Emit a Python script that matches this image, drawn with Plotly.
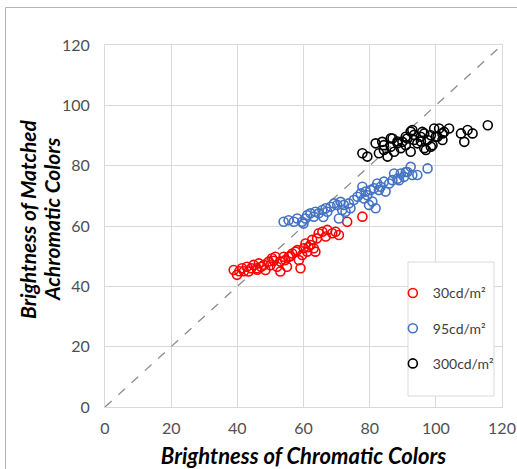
import plotly.graph_objects as go

# ---------------- data ----------------
SERIES_NAMES = ["30cd/m²", "95cd/m²", "300cd/m²"]
SERIES_COLORS = ["#FF0000", "#4472C4", "#000000"]

red_x = [38.9, 39.9, 40.6, 41.4, 42.9, 43.4, 44.2, 44.9, 45.9, 46.5, 47.2, 48.0, 48.5, 49.5,
         50.0, 50.5, 51.5, 52.0, 53.0, 53.0, 54.0, 54.5, 55.0, 55.5, 56.6, 57.6, 58.1, 58.6,
         59.1, 59.6, 60.1, 60.6, 61.1, 62.1, 62.6, 63.1, 63.6, 64.1, 64.6, 65.7, 66.7, 67.2,
         68.7, 69.7, 70.7, 73.2, 77.8, 42.0, 46.0, 51.0, 56.0, 61.5]
red_y = [45.4, 43.8, 45.0, 46.0, 46.5, 44.9, 46.0, 47.1, 46.0, 47.6, 46.5, 47.1, 45.4, 48.2,
         47.0, 49.3, 49.8, 46.5, 44.9, 48.2, 49.8, 48.7, 46.5, 49.8, 50.9, 51.5, 52.0, 48.7,
         46.0, 50.4, 52.6, 54.2, 51.5, 53.7, 55.4, 52.6, 51.5, 55.9, 57.6, 58.1, 56.5, 58.7,
         57.6, 58.1, 57.0, 61.4, 63.1, 45.0, 45.5, 48.5, 50.0, 53.0]

blue_x = [54.0, 55.5, 57.1, 58.1, 59.6, 60.6, 61.1, 62.1, 63.1, 63.6, 64.6, 65.7, 66.7, 67.2,
          68.2, 69.2, 70.2, 70.7, 71.2, 71.7, 72.2, 72.7, 73.7, 74.2, 75.2, 76.3, 77.3, 77.8,
          78.3, 78.8, 79.3, 79.8, 80.3, 80.8, 81.3, 81.8, 82.3, 82.8, 83.3, 84.3, 84.8, 85.9,
          86.9, 87.4, 88.4, 88.9, 89.4, 90.4, 90.9, 91.4, 92.4, 92.9, 94.4, 97.5, 60.0, 66.0]
blue_y = [61.4, 61.9, 61.4, 62.5, 61.4, 62.5, 63.6, 64.2, 63.1, 64.7, 64.2, 65.3, 65.9, 64.7,
          66.4, 67.5, 67.0, 62.5, 68.0, 65.3, 67.0, 64.7, 67.5, 65.9, 68.6, 69.7, 70.8, 73.0,
          69.1, 71.4, 70.2, 67.0, 71.9, 68.1, 72.5, 65.9, 74.1, 71.9, 73.0, 74.7, 71.4, 74.1,
          75.2, 77.4, 75.7, 75.2, 77.4, 76.3, 77.9, 77.9, 79.6, 76.9, 76.9, 79.1, 60.8, 63.0]

black_x = [77.8, 79.3, 81.8, 82.8, 83.8, 84.3, 85.4, 86.4, 86.9, 87.4, 88.4, 89.4, 89.9, 90.9,
           91.4, 92.4, 92.9, 93.4, 94.4, 95.4, 95.9, 96.5, 97.5, 98.5, 99.0, 99.5, 100.5, 101.0,
           102.0, 102.5, 104.0, 107.6, 108.6, 109.6, 111.1, 115.7, 84.3, 88.4, 90.9, 92.4,
           95.5, 96.5, 97.0, 98.5, 100.0, 102.0, 86.4, 93.4]
black_y = [84.1, 83.0, 87.4, 84.1, 87.9, 85.2, 83.0, 86.3, 89.0, 84.6, 87.4, 85.8, 87.9, 86.8,
           89.0, 84.6, 91.8, 88.5, 87.4, 89.6, 91.2, 85.8, 88.5, 90.1, 86.8, 92.3, 89.6, 92.3,
           88.5, 91.2, 92.3, 90.7, 87.9, 91.8, 90.7, 93.4, 86.8, 88.0, 89.6, 91.3, 88.0, 90.7,
           85.2, 86.3, 89.6, 90.7, 89.1, 90.2]

DIAG = [0, 120]
TICKS = [0, 20, 40, 60, 80, 100, 120]
X_TITLE = "Brightness of Chromatic Colors"
Y_TITLE_LINES = ["Brightness of Matched", "Achromatic Colors"]

# ---------------- figure ----------------
W, H = 517, 469
ML, MR, MT, MB = 105, 15, 45, 62
PW, PH = W - ML - MR, H - MT - MB


def px_to_paper_x(px):
    return (px - ML) / PW


def px_to_paper_y(py):
    return (H - MB - py) / PH


fig = go.Figure()

fig.add_trace(go.Scatter(
    x=DIAG, y=DIAG, mode="lines", showlegend=False, hoverinfo="skip",
    line=dict(color="#8c8c8c", width=1.3, dash="dash")))

for name, color, xs, ys in zip(SERIES_NAMES, SERIES_COLORS,
                               [red_x, blue_x, black_x], [red_y, blue_y, black_y]):
    fig.add_trace(go.Scatter(
        x=xs, y=ys, mode="markers", name=name, legendgroup=name,
        marker=dict(symbol="circle-open", size=9, color=color,
                    line=dict(width=1.6, color=color))))

axis_common = dict(
    range=[0, 120], tickvals=TICKS, showgrid=True, gridcolor="#d9d9d9", gridwidth=1,
    zeroline=False, showline=True, linecolor="#d9d9d9", linewidth=1, mirror=True,
    ticks="", automargin=False,
    tickfont=dict(family="Lato", size=16, color="#505050"),
)

title_font = dict(family="Lato", size=22, color="black", weight="bold", style="italic")
ytitle_font = dict(family="Lato", size=21, color="black", weight="bold", style="italic")

annotations = []
for line_text, cx in zip(Y_TITLE_LINES, [27, 51]):
    annotations.append(dict(
        text=line_text, xref="paper", yref="paper",
        x=px_to_paper_x(cx), y=px_to_paper_y(219), xanchor="center", yanchor="middle",
        textangle=-90, showarrow=False, font=ytitle_font))

fig.update_layout(
    width=W, height=H,
    margin=dict(l=ML, r=MR, t=MT, b=MB),
    paper_bgcolor="white", plot_bgcolor="white",
    font=dict(family="Lato"),
    xaxis=dict(**axis_common, ticklabelstandoff=7,
               title=dict(text=X_TITLE, standoff=12, font=title_font)),
    yaxis=dict(**axis_common, ticklabelstandoff=11),
    annotations=annotations,
    legend=dict(x=0.725, y=0.358, xanchor="left", yanchor="top",
                bgcolor="rgba(0,0,0,0)", borderwidth=0,
                tracegroupgap=14, traceorder="grouped",
                font=dict(family="Lato", size=14, color="#404040")),
    shapes=[
        dict(type="rect", xref="paper", yref="paper",
             x0=px_to_paper_x(408), x1=px_to_paper_x(494),
             y0=px_to_paper_y(396), y1=px_to_paper_y(262),
             line=dict(color="#d9d9d9", width=1), fillcolor="white", layer="above"),
        dict(type="rect", xref="paper", yref="paper",
             x0=px_to_paper_x(5.5), x1=px_to_paper_x(530),
             y0=px_to_paper_y(480), y1=px_to_paper_y(7.5),
             line=dict(color="#b4b4b4", width=1), fillcolor="rgba(0,0,0,0)"),
    ],
)

fig.write_html("out.html", config={"displayModeBar": False},
               post_script="document.body.style.margin='0';")
